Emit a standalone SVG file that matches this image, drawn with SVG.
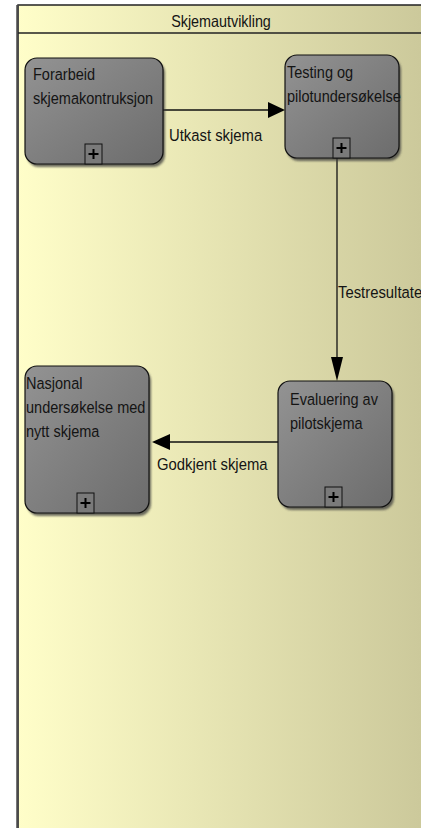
<svg xmlns="http://www.w3.org/2000/svg" width="421" height="828" viewBox="0 0 421 828">
<defs>
<linearGradient id="pool" x1="18" y1="0" x2="421" y2="0" gradientUnits="userSpaceOnUse">
<stop offset="0" stop-color="#FFFEC9"/>
<stop offset="1" stop-color="#CCC99B"/>
</linearGradient>
<linearGradient id="node" x1="0" y1="0" x2="1" y2="1">
<stop offset="0" stop-color="#939393"/>
<stop offset="1" stop-color="#6C6C6C"/>
</linearGradient>
<filter id="blur" x="-10%" y="-10%" width="130%" height="130%">
<feGaussianBlur stdDeviation="1"/>
</filter>
</defs>
<style>
.t{font-family:"Liberation Sans",Arial,sans-serif;font-size:16.5px;fill:#141414}
.shadow{fill:#3c3c3c;opacity:0.75;filter:url(#blur)}
.box{fill:url(#node);stroke:#111;stroke-width:1.2}
.plus{fill:#7a7a7a;stroke:#111;stroke-width:1}
.conn{stroke:#111;stroke-width:1.3;fill:none}
.head{fill:#000}
</style>
<rect x="0" y="0" width="421" height="828" fill="#ffffff"/>
<g id="pool-lane">
<rect x="18" y="5" width="410" height="830" fill="url(#pool)" stroke="#222" stroke-width="1.5"/>
<line x1="17.5" y1="5" x2="17.5" y2="828" stroke="#4a4a4a" stroke-width="2.5"/>
<line x1="18" y1="33" x2="421" y2="33" stroke="#222" stroke-width="1.5"/>
<text class="t" transform="translate(221,27) scale(0.87,1)" text-anchor="middle" font-size="16">Skjemautvikling</text>
</g>
<g id="connectors">
<line class="conn" x1="163" y1="110" x2="269" y2="110"/>
<polygon class="head" points="268,102 285,110 268,118"/>
<text class="t" transform="translate(169,141) scale(0.9,1)">Utkast skjema</text>
<line class="conn" x1="337" y1="158" x2="337" y2="358"/>
<polygon class="head" points="331,357 337,381 343,357"/>
<text class="t" transform="translate(338,298) scale(0.9,1)">Testresultater</text>
<line class="conn" x1="278" y1="442" x2="169" y2="442"/>
<polygon class="head" points="170,434 152,442 170,450"/>
<text class="t" transform="translate(157,470) scale(0.9,1)">Godkjent skjema</text>
</g>
<g id="node-forarbeid">
<rect class="shadow" x="27" y="61" width="138" height="106" rx="12"/>
<rect class="box" x="25" y="58" width="138" height="106" rx="12"/>
<rect class="plus" x="85" y="144" width="17" height="20"/>
<path d="M88.5 154h10M93.5 149v10" stroke="#000" stroke-width="2"/>
<text class="t" transform="translate(33,80) scale(0.88,1)">Forarbeid</text>
<text class="t" transform="translate(33,104) scale(0.88,1)">skjemakontruksjon</text>
</g>
<g id="node-testing">
<rect class="shadow" x="287" y="58" width="114" height="103" rx="12"/>
<rect class="box" x="285" y="55" width="114" height="103" rx="12"/>
<rect class="plus" x="333" y="138" width="17" height="20"/>
<path d="M336.5 148h10M341.5 143v10" stroke="#000" stroke-width="2"/>
<text class="t" transform="translate(287,78) scale(0.88,1)">Testing og</text>
<text class="t" transform="translate(287,102) scale(0.88,1)">pilotundersøkelse</text>
</g>
<g id="node-nasjonal">
<rect class="shadow" x="27" y="369" width="124" height="147" rx="12"/>
<rect class="box" x="25" y="366" width="124" height="147" rx="12"/>
<rect class="plus" x="77" y="493" width="17" height="20"/>
<path d="M80.5 503h10M85.5 498v10" stroke="#000" stroke-width="2"/>
<text class="t" transform="translate(26,389) scale(0.88,1)">Nasjonal</text>
<text class="t" transform="translate(26,413) scale(0.88,1)">undersøkelse med</text>
<text class="t" transform="translate(26,437) scale(0.88,1)">nytt skjema</text>
</g>
<g id="node-evaluering">
<rect class="shadow" x="280" y="384" width="114" height="126" rx="12"/>
<rect class="box" x="278" y="381" width="114" height="126" rx="12"/>
<rect class="plus" x="325" y="487" width="17" height="20"/>
<path d="M328.5 497h10M333.5 492v10" stroke="#000" stroke-width="2"/>
<text class="t" transform="translate(290,405) scale(0.88,1)">Evaluering av</text>
<text class="t" transform="translate(290,429) scale(0.88,1)">pilotskjema</text>
</g>
</svg>
